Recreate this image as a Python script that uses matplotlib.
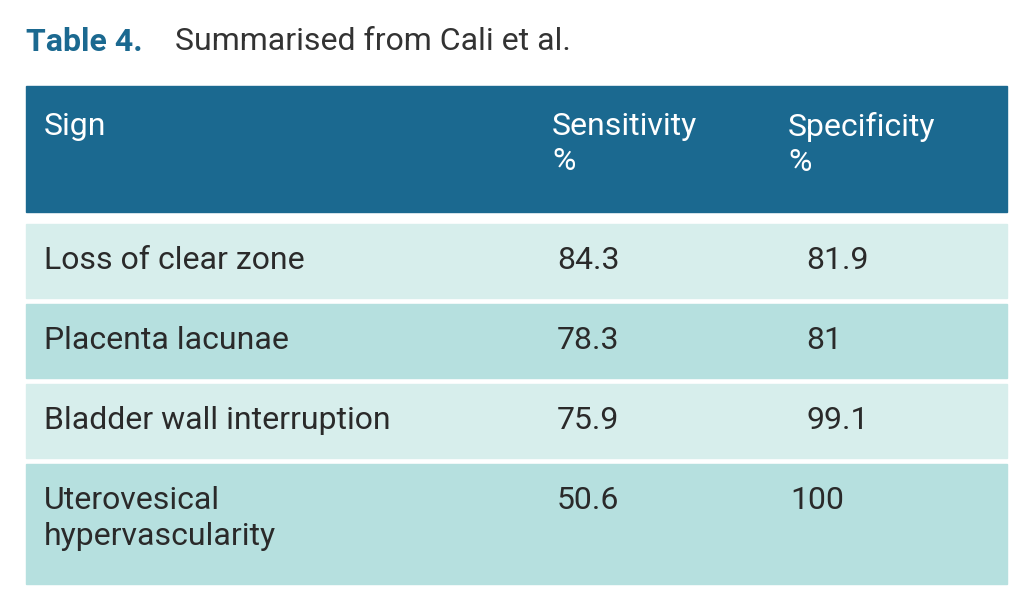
import matplotlib.pyplot as plt
from matplotlib.patches import Rectangle

signs = ['Loss of clear zone', 'Placenta lacunae', 'Bladder wall interruption',
         'Uterovesical\nhypervascularity']
sensitivity = ['84.3', '78.3', '75.9', '50.6']
specificity = ['81.9', '81', '99.1', '100']
headers = ['Sign', 'Sensitivity\n%', 'Specificity\n%']


#####################
#   TABLE!!!        #
#####################
def table():
    W, H = 1033, 610
    fig = plt.figure(figsize=(W / 100, H / 100), dpi=100)
    ax = plt.axes([0, 0, 1, 1])
    ax.set_xlim(0, W)
    ax.set_ylim(H, 0)
    ax.axis('off')
    plt.rcParams['font.family'] = 'Roboto'

    teal = '#1b6990'
    plt.text(26, 42, 'Table 4.', color=teal, fontsize=23, weight='bold', va='center')
    plt.text(175, 42, 'Summarised from Cali et al.', color='#333333', fontsize=23, va='center')

    ax.add_patch(Rectangle((26, 86), 981, 126, color=teal))
    for txt, x in zip(headers, [44, 552, 788]):
        plt.text(x, 112, txt, color='white', fontsize=23, va='top', linespacing=1.25)

    tops = [224, 304, 384, 464]  # row top edges
    heights = [74, 74, 74, 120]
    colors = ['#d7eeec', '#b6e0df', '#d7eeec', '#b6e0df']
    for i in range(len(signs)):
        ax.add_patch(Rectangle((26, tops[i]), 981, heights[i], color=colors[i]))
        plt.text(44, tops[i] + 22, signs[i], color='#2a2a2a', fontsize=23, va='top', linespacing=1.3)
        plt.text(557, tops[i] + 22, sensitivity[i], color='#2a2a2a', fontsize=23, va='top')
        xs = 790 if specificity[i] == '100' else 806
        plt.text(xs, tops[i] + 22, specificity[i], color='#2a2a2a', fontsize=23, va='top')

    plt.savefig('out.png', dpi=100)


table()
